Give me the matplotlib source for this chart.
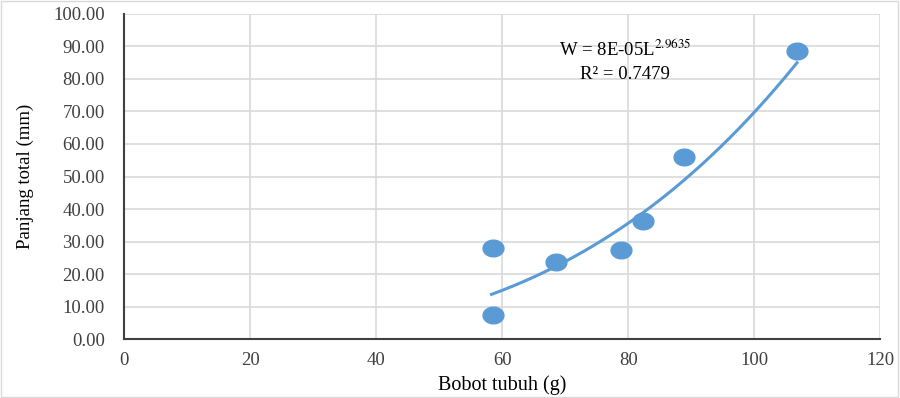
import numpy as np
import matplotlib
matplotlib.use("Agg")
from matplotlib import pyplot as plt
from matplotlib.path import Path

bobot = [58.6, 58.6, 68.6, 78.9, 82.4, 88.9, 106.8]
panjang = [7.4, 28.0, 23.7, 27.4, 36.3, 56.0, 88.6]
x_ticks = [0, 20, 40, 60, 80, 100, 120]
y_ticks = [0, 10, 20, 30, 40, 50, 60, 70, 80, 90, 100]

BLUE = "#5B9BD5"
plt.rcParams["font.family"] = ["Liberation Serif", "DejaVu Serif"]

# slightly wide ellipse marker, like the stretched picture
t = np.linspace(0, 2 * np.pi, 60)
ellipse = Path(np.column_stack([1.25 * np.cos(t), np.sin(t)]), closed=True)

fig = plt.figure(figsize=(9, 3.98), dpi=100)
ax = fig.add_axes([0.138, 0.148, 0.840, 0.817])

# power trendline as Excel does it (least squares in log space)
b, ln_a = np.polyfit(np.log(bobot), np.log(panjang), 1)
xs = np.linspace(min(bobot) - 0.3, max(bobot), 200)
ax.plot(xs, np.exp(ln_a) * xs ** b, color=BLUE, lw=2.2, zorder=3)

ax.plot(bobot, panjang, ls="none", marker=ellipse, color=BLUE, ms=15, mec=BLUE, zorder=4)

ax.set_xlim(0, 120)
ax.set_ylim(0, 100)
ax.set_xticks(x_ticks)
ax.set_yticks(y_ticks)
ax.set_yticklabels([f"{v:.2f}" for v in y_ticks])
ax.tick_params(length=0, labelsize=13.5, colors="#404040")
ax.tick_params(axis="y", pad=14)
ax.tick_params(axis="x", pad=9)
ax.grid(color="#d9d9d9", lw=1.2)
ax.set_axisbelow(True)
for s in ["top", "right"]:
    ax.spines[s].set_visible(False)
for s in ["left", "bottom"]:
    ax.spines[s].set_color("#404040")
    ax.spines[s].set_linewidth(1.5)

ax.set_xlabel("Bobot tubuh (g)", fontsize=14.5, labelpad=5)
ax.set_ylabel("Panjang total (mm)", fontsize=13.5, labelpad=14)

ax.text(79.5, 87.1, r"W = 8E-05L$^{2.9635}$", ha="center", va="baseline", fontsize=13.5,
        math_fontfamily="stix")
ax.text(79.5, 80.0, "R² = 0.7479", ha="center", va="baseline", fontsize=13.5)

fig.patches.append(plt.Rectangle((0.001, 0.002), 0.997, 0.995, transform=fig.transFigure,
                                 fill=False, ec="#d9d9d9", lw=1))

fig.savefig("out.png", dpi=100)
